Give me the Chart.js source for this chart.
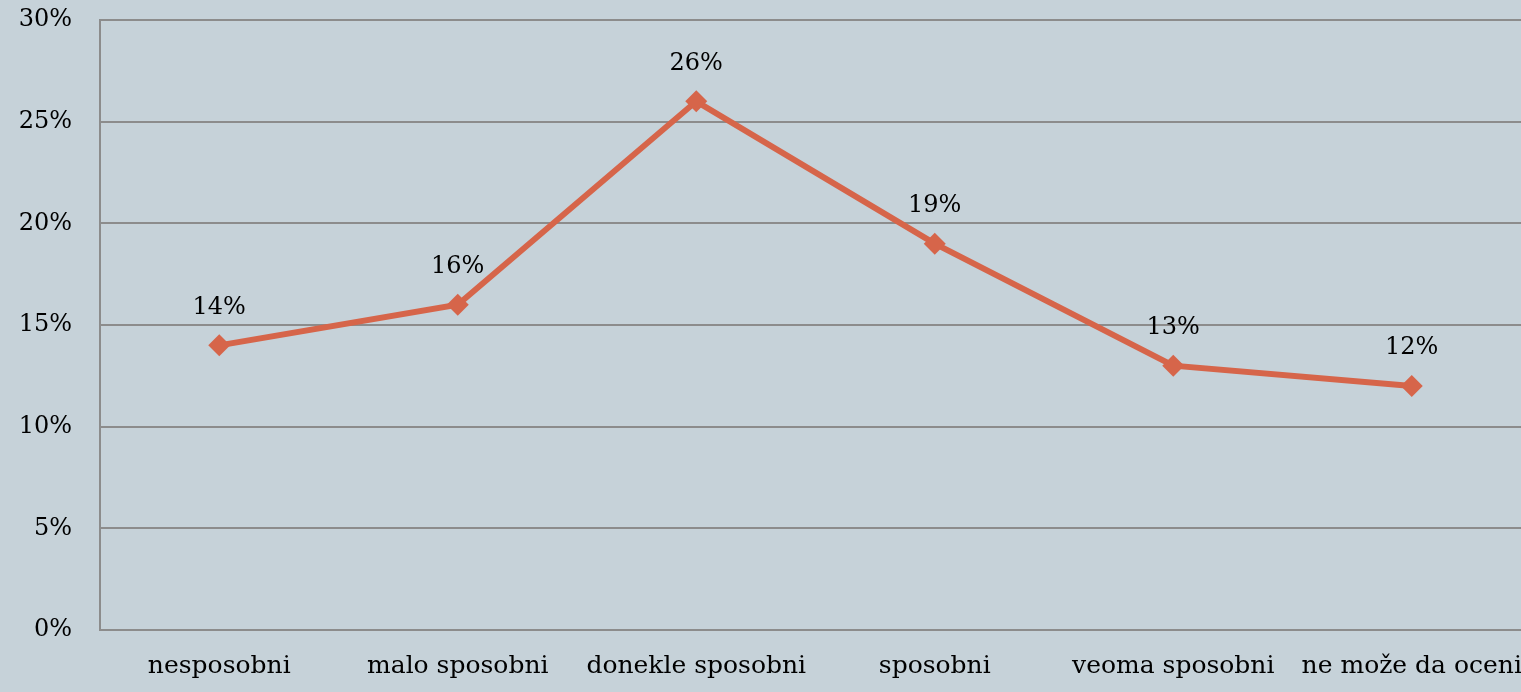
<!DOCTYPE html>
<html>
<head>
<meta charset="utf-8">
<script src="https://cdn.jsdelivr.net/npm/chart.js@4"></script>
<style>
html,body{margin:0;padding:0;background:#c6d2d9;overflow:hidden;}
#wrap{position:relative;width:1540px;height:692px;}
</style>
</head>
<body>
<div id="wrap"><canvas id="c"></canvas></div>
<script>
const categories = ["nesposobni","malo sposobni","donekle sposobni","sposobni","veoma sposobni","ne može da oceni"];
const values = [14,16,26,19,13,12];
const yTicks = [0,5,10,15,20,25,30];

const FONT = "'DejaVu Serif', 'Liberation Serif', serif";

const labelPlugin = {
  id:'pointLabels',
  afterDatasetsDraw(chart){
    const ctx = chart.ctx;
    const meta = chart.getDatasetMeta(0);
    ctx.save();
    ctx.fillStyle = '#000';
    ctx.font = "24px " + FONT;
    ctx.textAlign = 'center';
    ctx.textBaseline = 'middle';
    meta.data.forEach((pt,i)=>{
      ctx.fillText(values[i] + '%', pt.x, pt.y - 38);
    });
    ctx.restore();
  }
};

new Chart(document.getElementById('c'), {
  type:'line',
  data:{
    labels:categories,
    datasets:[{
      data:values,
      borderColor:'#d6654a',
      backgroundColor:'#d6654a',
      borderWidth:6,
      pointStyle:'rectRot',
      pointRadius:11,
      pointHoverRadius:11,
      pointBorderWidth:0,
      tension:0
    }]
  },
  options:{
    responsive:true,
    maintainAspectRatio:false,
    animation:false,
    events:[],
    layout:{autoPadding:false,padding:{top:20,right:9,left:0,bottom:0}},
    plugins:{legend:{display:false},tooltip:{enabled:false}},
    scales:{
      x:{
        offset:true,
        grid:{display:false,drawTicks:false},
        border:{display:true,color:'#8c8c8c',width:2},
        ticks:{color:'#000',font:{family:FONT,size:25},padding:21,maxRotation:0,autoSkip:false},
        afterFit(s){s.height = 62; s.paddingLeft = 0; s.paddingRight = 0;}
      },
      y:{
        min:0,max:30,
        afterBuildTicks(s){s.ticks = yTicks.map(v=>({value:v}));},
        grid:{color:'#8c8c8c',lineWidth:2,drawTicks:false},
        border:{display:true,color:'#8c8c8c',width:2},
        ticks:{color:'#000',font:{family:FONT,size:24},padding:28,callback:v=>v+'%'},
        afterFit(s){s.width = 100; s.paddingTop = 0; s.paddingBottom = 0;}
      }
    }
  },
  plugins:[labelPlugin]
});
</script>
</body>
</html>
